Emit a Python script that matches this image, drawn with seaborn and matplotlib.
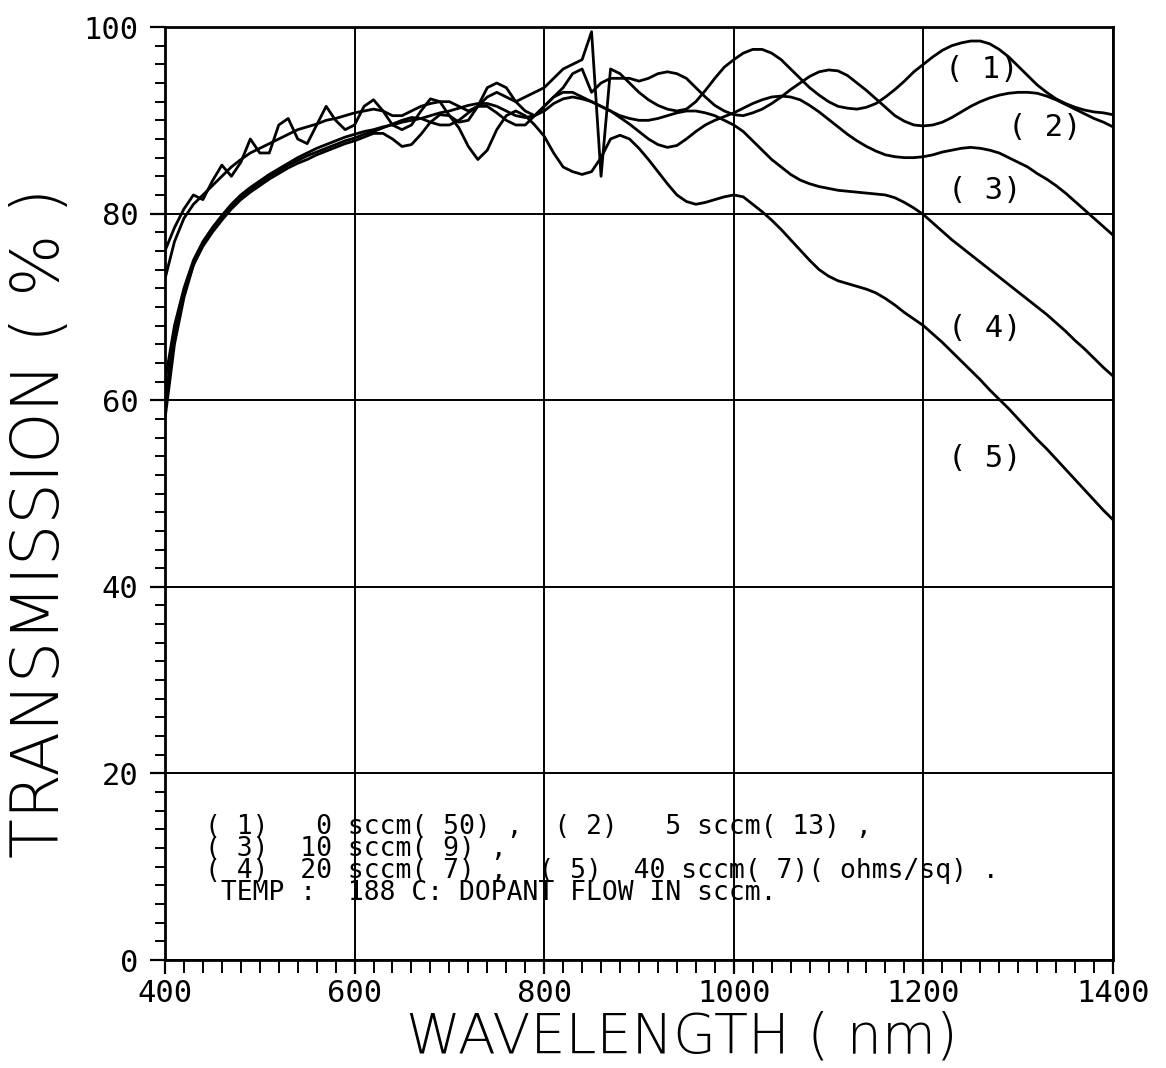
"""
Transmission spectra of doped films vs. wavelength (plotter-style chart).
"""

import matplotlib
matplotlib.use("Agg")
import matplotlib.pyplot as plt
from matplotlib.ticker import MultipleLocator
import numpy as np
import pandas as pd
import seaborn as sns

# wavelength grid (nm)
wavelength = np.arange(400, 1401, 10)

# (1) 0 sccm
t1 = [73, 77, 79.5, 81, 82, 83, 84, 85, 85.8, 86.5,
      87, 87.5, 88, 88.5, 89, 89.3, 89.6, 90, 90.2, 90.5,
      90.8, 91, 91.2, 91, 90.5, 90.5, 91, 91.5, 91.8, 92,
      92, 91.5, 91, 91.5, 92.5, 93, 92.5, 92, 92.5, 93,
      93.5, 94.5, 95.5, 96, 96.5, 99.5, 84, 95.5, 95, 94,
      93, 92.2, 91.6, 91.2, 91, 91.2, 92, 93.2, 94.5, 95.7,
      96.5, 97.2, 97.6, 97.6, 97.2, 96.5, 95.5, 94.5, 93.5, 92.7,
      92, 91.5, 91.3, 91.2, 91.4, 91.8, 92.5, 93.3, 94.2, 95.2,
      96, 96.8, 97.5, 98, 98.3, 98.5, 98.5, 98.2, 97.6, 96.8,
      95.8, 94.8, 93.8, 93, 92.3, 91.8, 91.4, 91.1, 90.9, 90.8,
      90.6]

# (2) 5 sccm
t2 = [76, 78.5, 80.5, 82, 81.5, 83.5, 85.2, 84, 85.5, 88,
      86.5, 86.5, 89.5, 90.2, 88, 87.5, 89.5, 91.5, 90, 89,
      89.5, 91.5, 92.2, 91, 89.5, 89, 89.5, 91, 92.3, 92,
      90.5, 89.8, 90, 91.5, 93.5, 94, 93.5, 92, 91, 90.5,
      91.5, 92.5, 93.5, 95, 95.5, 93, 94, 94.5, 94.5, 94.5,
      94.2, 94.5, 95, 95.2, 95, 94.5, 93.5, 92.5, 91.6, 91,
      90.6, 90.5, 90.8, 91.2, 91.8, 92.5, 93.3, 94, 94.7, 95.2,
      95.4, 95.3, 94.8, 94, 93.2, 92.3, 91.4, 90.5, 89.9, 89.5,
      89.4, 89.5, 89.8, 90.3, 90.9, 91.5, 92, 92.4, 92.7, 92.9,
      93, 93, 92.9, 92.6, 92.2, 91.7, 91.2, 90.7, 90.2, 89.8,
      89.3]

# (3) 10 sccm
t3 = [62, 68, 72, 75, 77, 78.5, 79.8, 81, 82, 82.8,
      83.5, 84.2, 84.8, 85.4, 86, 86.5, 87, 87.4, 87.8, 88.2,
      88.5, 88.8, 89, 89.3, 89.5, 89.8, 90, 90.2, 90.5, 90.8,
      91, 91.3, 91.6, 91.8, 91.8, 91.5, 91, 90.5, 90.3, 90.5,
      91, 91.8, 92.3, 92.5, 92.3, 92, 91.5, 91, 90.3, 89.6,
      88.8, 88, 87.4, 87.1, 87.3, 88, 88.8, 89.5, 90, 90.4,
      90.8, 91.3, 91.8, 92.2, 92.5, 92.6, 92.5, 92.2, 91.6, 90.9,
      90.1, 89.3, 88.5, 87.8, 87.2, 86.7, 86.3, 86.1, 86, 86,
      86.1, 86.3, 86.6, 86.8, 87, 87.1, 87, 86.8, 86.5, 86,
      85.5, 85, 84.3, 83.7, 83, 82.2, 81.3, 80.4, 79.5, 78.6,
      77.7]

# (4) 20 sccm
t4 = [60, 67, 71.5, 74.5, 76.8, 78.3, 79.6, 80.8, 81.8, 82.6,
      83.3, 84, 84.6, 85.2, 85.7, 86.2, 86.6, 87, 87.4, 87.8,
      88.1, 88.5, 88.8, 89.2, 89.6, 90, 90.3, 90.2, 89.8, 89.5,
      89.5, 90, 90.8, 91.5, 91.5, 90.8, 90, 89.5, 89.5, 90.5,
      91.5, 92.5, 93, 93, 92.5, 92, 91.5, 91, 90.5, 90.2,
      90, 90, 90.2, 90.5, 90.8, 91, 91, 90.8, 90.5, 90,
      89.5, 88.8, 87.8, 86.8, 85.8, 85, 84.2, 83.6, 83.2, 82.9,
      82.7, 82.5, 82.4, 82.3, 82.2, 82.1, 82, 81.7, 81.2, 80.6,
      79.9, 79, 78.1, 77.2, 76.4, 75.6, 74.8, 74, 73.2, 72.4,
      71.6, 70.8, 70, 69.2, 68.3, 67.4, 66.4, 65.5, 64.5, 63.5,
      62.6]

# (5) 40 sccm
t5 = [58, 66, 71, 74.5, 76.5, 78, 79.3, 80.5, 81.5, 82.3,
      83, 83.7, 84.3, 84.9, 85.4, 85.8, 86.3, 86.7, 87.1, 87.5,
      87.8, 88.2, 88.6, 88.6, 88, 87.2, 87.4, 88.5, 89.8, 90.6,
      90.5, 89.2, 87.2, 85.8, 86.8, 89, 90.5, 91, 90.5, 89.5,
      88.3, 86.5, 85, 84.5, 84.2, 84.5, 86, 88, 88.4, 88,
      87, 85.8, 84.5, 83.2, 82, 81.3, 81, 81.2, 81.5, 81.8,
      82, 81.8, 81, 80.2, 79.3, 78.3, 77.2, 76.1, 75, 74,
      73.3, 72.8, 72.5, 72.2, 71.9, 71.5, 70.9, 70.2, 69.4, 68.7,
      68, 67.1, 66.2, 65.2, 64.2, 63.2, 62.2, 61.1, 60.1, 59.1,
      58, 56.9, 55.8, 54.8, 53.7, 52.6, 51.5, 50.4, 49.3, 48.2,
      47.2]

curve_names = ["( 1)", "( 2)", "( 3)", "( 4)", "( 5)"]
# label anchor positions (wavelength, transmission)
label_x = [1262, 1328, 1265, 1265, 1265]
label_y = [95.4, 89.2, 82.5, 67.7, 53.8]

notes = [
    "( 1)   0 sccm( 50) ,  ( 2)   5 sccm( 13) ,",
    "( 3)  10 sccm( 9) ,",
    "( 4)  20 sccm( 7) ,  ( 5)  40 sccm( 7)( ohms/sq) .",
    " TEMP :  188 C: DOPANT FLOW IN sccm.",
]

df = pd.DataFrame({"wavelength": wavelength, "(1)": t1, "(2)": t2,
                   "(3)": t3, "(4)": t4, "(5)": t5})
long_df = df.melt(id_vars="wavelength", var_name="curve", value_name="T")

sns.set_style("ticks")
plt.rcParams["font.family"] = ["DejaVu Sans"]
plt.rcParams["text.color"] = "black"
plt.rcParams["axes.labelcolor"] = "black"
plt.rcParams["xtick.color"] = "black"
plt.rcParams["ytick.color"] = "black"

fig = plt.figure(figsize=(11.66, 10.68), dpi=100)
ax = fig.add_axes([0.1415, 0.1011, 0.813, 0.8736])

sns.lineplot(data=long_df, x="wavelength", y="T", hue="curve",
             palette=["black"] * 5, linewidth=2.0, legend=False, ax=ax)

ax.set_xlim(400, 1400)
ax.set_ylim(0, 100)
ax.xaxis.set_major_locator(MultipleLocator(200))
ax.xaxis.set_minor_locator(MultipleLocator(20))
ax.yaxis.set_major_locator(MultipleLocator(20))
ax.yaxis.set_minor_locator(MultipleLocator(2))
ax.grid(True, which="major", color="black", linewidth=1.4)
for sp in ax.spines.values():
    sp.set_visible(True)
    sp.set_color("black")
    sp.set_linewidth(2)

ax.tick_params(axis="both", which="both", bottom=True, left=True,
               top=False, right=False, direction="out",
               color="black", labelcolor="black")
ax.tick_params(axis="x", which="major", length=10, width=1.6, pad=4, labelsize=22)
ax.tick_params(axis="x", which="minor", length=9, width=1.4)
ax.tick_params(axis="y", which="major", length=11, width=1.6, pad=8, labelsize=22)
ax.tick_params(axis="y", which="minor", length=7, width=1.4)
for lab in ax.get_xticklabels() + ax.get_yticklabels():
    lab.set_family("DejaVu Sans Mono")

ax.set_xlabel("WAVELENGTH ( nm)", fontsize=40, fontweight="light", color="black")
ax.set_ylabel("TRANSMISSION ( % )", fontsize=47, fontweight="light", color="black")
ax.xaxis.set_label_coords(0.545, -0.054)
ax.yaxis.set_label_coords(-0.097, 0.469)

for name, lx, ly in zip(curve_names, label_x, label_y):
    ax.text(lx, ly, name, fontsize=22, family="DejaVu Sans Mono",
            ha="center", va="center", color="black")

ax.text(442, 15.6, "\n".join(notes), fontsize=19, family="DejaVu Sans Mono",
        ha="left", va="top", linespacing=0.8, color="black")

fig.savefig("out.png", dpi=100)
plt.close(fig)
